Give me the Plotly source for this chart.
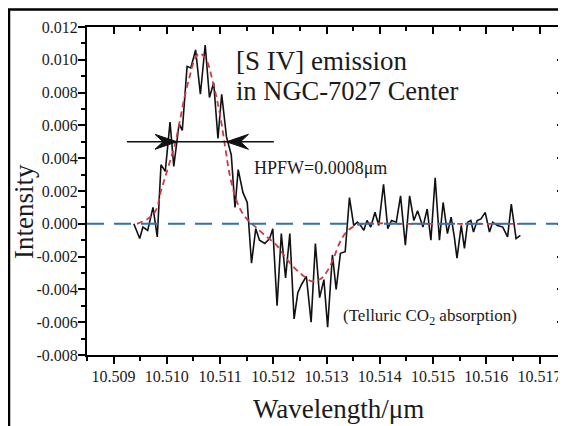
import numpy as np
import plotly.graph_objects as go

# ---------------- data ----------------
wavelength = [
    10.50938, 10.50949, 10.50955, 10.50964, 10.50974, 10.50982, 10.50989, 10.50997,
    10.51006, 10.51013, 10.51023, 10.51029, 10.51038, 10.51045, 10.51054, 10.51063,
    10.51072, 10.51080, 10.51088, 10.51096, 10.51103, 10.51112, 10.51121, 10.51128,
    10.51134, 10.51143, 10.51151, 10.51159, 10.51167, 10.51174, 10.51184, 10.51193,
    10.51199, 10.51207, 10.51215, 10.51223, 10.51231, 10.51239, 10.51246, 10.51253,
    10.51262, 10.51271, 10.51279, 10.51287, 10.51295, 10.51302, 10.51311, 10.51318,
    10.51326, 10.51335, 10.51343, 10.51351, 10.51358, 10.51364, 10.51370, 10.51376,
    10.51383, 10.51391, 10.51398, 10.51407, 10.51415, 10.51422, 10.51431, 10.51439,
    10.51448, 10.51456, 10.51464, 10.51471, 10.51481, 10.51489, 10.51496, 10.51504,
    10.51512, 10.51519, 10.51527, 10.51534, 10.51540, 10.51545, 10.51553, 10.51559,
    10.51565, 10.51571, 10.51576, 10.51583, 10.51590, 10.51598, 10.51606, 10.51612,
    10.51621, 10.51631, 10.51640, 10.51647, 10.51656, 10.51664,
]
intensity = [
    0.0000, -0.0009, -0.0002, -0.0004, 0.0010, -0.0008, 0.0036, 0.0032,
    0.0062, 0.0035, 0.0061, 0.0057, 0.0096, 0.0095, 0.0106, 0.0079,
    0.0109, 0.0077, 0.0086, 0.0052, 0.0079, 0.0053, 0.0042, 0.0010,
    0.0033, 0.0019, 0.0013, -0.0024, -0.0003, -0.0010, -0.0012, -0.0009,
    -0.0003, -0.0050, -0.0006, -0.0033, -0.0006, -0.0058, -0.0042, -0.0037,
    -0.0032, -0.0060, -0.0012, -0.0045, -0.0034, -0.0063, -0.0019, -0.0040,
    -0.0018, -0.0017, 0.0016, -0.0001, 0.0001, -0.0001, -0.0004, 0.0002,
    -0.0002, 0.0007, -0.0001, 0.0024, -0.0003, 0.0002, 0.0001, 0.0017,
    -0.0013, 0.0017, 0.0002, 0.0008, -0.0002, 0.0009, -0.0010, 0.0028,
    -0.0010, 0.0013, -0.0006, 0.0004, -0.0008, -0.0021, -0.0001, -0.0015,
    0.0001, 0.0002, -0.0005, 0.0002, 0.0003, 0.0007, -0.0005, 0.0001,
    -0.0001, -0.0002, -0.0008, 0.0012, -0.0009, -0.0007,
]

fit_wavelength = [
    10.50944, 10.50964, 10.50979, 10.50989, 10.51002, 10.51014, 10.51024, 10.51033,
    10.51043, 10.51052, 10.51061, 10.51074, 10.51086, 10.51099, 10.51109, 10.51118,
    10.51131, 10.51143, 10.51156, 10.51167, 10.51184, 10.51206, 10.51224, 10.51243,
    10.51262, 10.51271, 10.51287, 10.51299, 10.51312, 10.51324, 10.51337, 10.51349,
    10.51368, 10.51437, 10.51549, 10.51662,
]
fit_intensity = [
    0.0000, 0.0003, 0.0008, 0.0020, 0.0034, 0.0047, 0.0062, 0.0077,
    0.0090, 0.0100, 0.0104, 0.0100, 0.0087, 0.0068, 0.0048, 0.0030,
    0.0014, 0.0006, 0.0001, -0.0002, -0.0007, -0.0013, -0.0021, -0.0028,
    -0.0033, -0.0035, -0.0034, -0.0030, -0.0022, -0.0012, -0.0005, -0.0002,
    0.0000, 0.0000, 0.0000, 0.0000,
]

x_ticks = [10.509, 10.510, 10.511, 10.512, 10.513, 10.514, 10.515, 10.516, 10.517]
x_tick_labels = ["10.509", "10.510", "10.511", "10.512", "10.513",
                 "10.514", "10.515", "10.516", "10.517"]
y_ticks = [-0.008, -0.006, -0.004, -0.002, 0.000, 0.002, 0.004, 0.006, 0.008, 0.010, 0.012]
y_tick_labels = ["-0.008", "-0.006", "-0.004", "-0.002", "0.000", "0.002",
                 "0.004", "0.006", "0.008", "0.010", "0.012"]

x_range = [10.5085, 10.51746]
y_range = [-0.008, 0.012]

hpfw_level = 0.005
hpfw_bar = [10.50925, 10.51201]
hpfw_tips = [10.51019, 10.51112]

# ---------------- layout geometry ----------------
# the page adds an 8 px body margin, so the figure is 8 px smaller and every
# page-pixel position p is placed at figure pixel p - OFF
OFF = 8
W, H = 566 - OFF, 426 - OFF
L, T = 87 - OFF, 27 - OFF
R = W - (564 - OFF)
B = H - (355 - OFF)
PW, PH = W - L - R, H - T - B


def fx(p):
    return (p - OFF - L) / PW


def fy(p):
    return (H - B - (p - OFF)) / PH


FONT = "Liberation Serif"
TXT = "#1a1a1a"

x_minor = list(np.round(np.arange(x_range[0], x_range[1], 0.001), 4))
y_minor = list(np.round(np.arange(-0.007, 0.012, 0.002), 4))

fig = go.Figure()

fig.add_trace(go.Scatter(x=wavelength, y=intensity, mode="lines",
                         line=dict(color="#111111", width=1.6),
                         hoverinfo="skip", showlegend=False))
fig.add_trace(go.Scatter(x=fit_wavelength, y=fit_intensity, mode="lines",
                         line=dict(color="#cc3a46", width=1.8, dash="6px,4px"),
                         line_shape="spline",
                         hoverinfo="skip", showlegend=False))
fig.add_trace(go.Scatter(x=hpfw_bar, y=[hpfw_level, hpfw_level], mode="lines",
                         line=dict(color="#111111", width=1.6),
                         hoverinfo="skip", showlegend=False))
# invisible trace to activate the mirror axes
fig.add_trace(go.Scatter(x=[x_range[0]], y=[y_range[0]], xaxis="x2", yaxis="y2",
                         mode="markers", marker=dict(opacity=0),
                         hoverinfo="skip", showlegend=False))

axis_common = dict(showgrid=False, zeroline=False, showline=True,
                   linecolor="black", linewidth=2, tickcolor="black",
                   tickwidth=2, ticklen=7)

fig.update_layout(
    width=W, height=H,
    margin=dict(l=L, r=R, t=T, b=B, pad=0),
    paper_bgcolor="white", plot_bgcolor="white",
    showlegend=False,
    font=dict(family=FONT, color=TXT),
    xaxis=dict(range=x_range, tickmode="array", tickvals=x_ticks, ticktext=x_tick_labels,
               ticks="outside", tickfont=dict(family=FONT, size=16, color=TXT),
               ticklabelstandoff=-1,
               minor=dict(tickmode="array", tickvals=x_minor, ticks="outside",
                          ticklen=4, tickwidth=1.5, tickcolor="black"),
               **axis_common),
    yaxis=dict(range=y_range, tickmode="array", tickvals=y_ticks, ticktext=y_tick_labels,
               ticks="outside", tickfont=dict(family=FONT, size=16, color=TXT),
               ticklabelstandoff=-3,
               minor=dict(tickmode="array", tickvals=y_minor, ticks="outside",
                          ticklen=4, tickwidth=1.5, tickcolor="black"),
               **axis_common),
    xaxis2=dict(range=x_range, overlaying="x", side="top", anchor="y2",
                tickmode="array", tickvals=x_ticks, showticklabels=False, ticks="inside",
                minor=dict(tickmode="array", tickvals=x_minor, ticks="inside",
                           ticklen=4, tickwidth=1.5, tickcolor="black"),
                **axis_common),
    yaxis2=dict(range=y_range, overlaying="y", side="right", anchor="x2",
                tickmode="array", tickvals=y_ticks, showticklabels=False, ticks="inside",
                minor=dict(tickmode="array", tickvals=y_minor, ticks="inside",
                           ticklen=4, tickwidth=1.5, tickcolor="black"),
                **axis_common),
)

shapes = [
    # zero reference line
    dict(type="line", xref="paper", yref="y", x0=0, x1=1, y0=0, y1=0,
         line=dict(color="#2f72ad", width=2, dash="17px,10px"), layer="above"),
    # outer frame
    dict(type="rect", xref="paper", yref="paper",
         x0=fx(9), x1=fx(563), y0=fy(440), y1=fy(9.5),
         line=dict(color="black", width=2.5), fillcolor="rgba(0,0,0,0)"),
    # arrowheads of the HPFW marker
    dict(type="path", xref="x", yref="y", xsizemode="pixel", ysizemode="pixel",
         xanchor=hpfw_tips[0], yanchor=hpfw_level,
         path="M0,0 L-22,7.5 L-14,0 L-22,-7.5 Z",
         fillcolor="#111111", line=dict(color="#111111", width=1)),
    dict(type="path", xref="x", yref="y", xsizemode="pixel", ysizemode="pixel",
         xanchor=hpfw_tips[1], yanchor=hpfw_level,
         path="M0,0 L22,7.5 L14,0 L22,-7.5 Z",
         fillcolor="#111111", line=dict(color="#111111", width=1)),
]
fig.update_layout(shapes=shapes)

ann = [
    dict(text="[S IV] emission", x=fx(234), y=fy(61), xanchor="left", yanchor="middle",
         font=dict(size=27)),
    dict(text="in NGC-7027 Center", x=fx(234), y=fy(91), xanchor="left", yanchor="middle",
         font=dict(size=26.5)),
    dict(text="HPFW=0.0008μm", x=fx(252), y=fy(168), xanchor="left", yanchor="middle",
         font=dict(size=18)),
    dict(text="(Telluric CO<sub>2</sub> absorption)", x=fx(341), y=fy(317),
         xanchor="left", yanchor="middle", font=dict(size=17)),
    dict(text="Wavelength/μm", x=fx(338), y=fy(409), xanchor="center", yanchor="middle",
         font=dict(size=27)),
    dict(text="Intensity", x=fx(24), y=fy(212), xanchor="center", yanchor="middle",
         textangle=-90, font=dict(size=27)),
]
for a in ann:
    a.update(xref="paper", yref="paper", showarrow=False)
    a["font"].update(family=FONT, color=TXT)
fig.update_layout(annotations=ann)

fig.write_html("out.html")
